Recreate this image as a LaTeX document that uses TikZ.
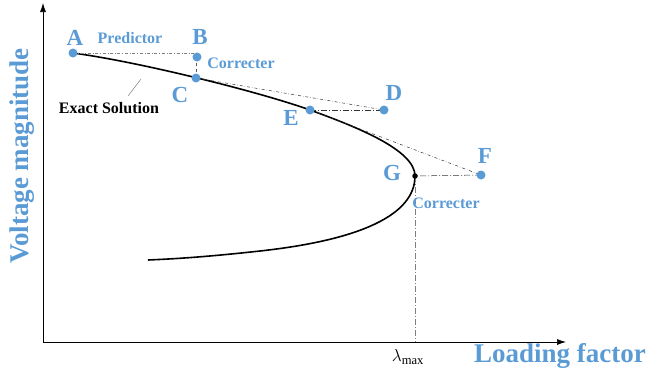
\documentclass[tikz,border=0pt]{standalone}
\usepackage{fontspec}
\setmainfont{Liberation Serif}
\usepackage{xcolor}
\definecolor{pvblue}{HTML}{5B9BD5}
\definecolor{pvgrey}{HTML}{7F7F7F}
\usetikzlibrary{arrows.meta,positioning,backgrounds}

\begin{document}
\begin{tikzpicture}[x=1pt,y=-1pt,
  ptdot/.style={circle,fill=pvblue,inner sep=0pt,minimum size=9pt},
  nosedot/.style={circle,fill=black,inner sep=0pt,minimum size=5.5pt},
  ptlbl/.style={text=pvblue,inner sep=0pt,font=\fontsize{23}{25}\selectfont\bfseries},
  smlbl/.style={text=pvblue,inner sep=0pt,font=\fontsize{16}{18}\selectfont\bfseries},
  axlbl/.style={text=pvblue,inner sep=0pt,font=\fontsize{27}{30}\selectfont\bfseries},
  guide/.style={dash dot,line width=0.5pt,draw=black!80},
  axis/.style={line width=0.7pt,-{Latex[length=9pt,width=6pt]}}]
\useasboundingbox (0,0) rectangle (648,376);

% axes
\coordinate (O) at (43,342);
\coordinate (ytip) at (43,3);
\coordinate (xtip) at (566,342);
\draw[axis] (O) -- (ytip);
\draw[axis] (O) -- (xtip);
\node[axlbl,rotate=90] (vlbl) at (22,156) {Voltage magnitude};
\node[axlbl] (llbl) at (560,356) {Loading factor};

% points
\node[ptdot] (A) at (73,53) {};
\node[ptdot] (B) at (197,57) {};
\node[ptdot] (C) at (196,78) {};
\node[ptdot] (E) at (310,110) {};
\node[ptdot] (D) at (384,110) {};
\node[ptdot] (F) at (481,175) {};
\node[nosedot] (G) at (415,176) {};
\coordinate (Gx) at (415,342);

% labels
\node[ptlbl] (Alab) at (75,38) {A};
\node[ptlbl] (Blab) at (200,37) {B};
\node[ptlbl] (Clab) at (180,95) {C};
\node[ptlbl] (Dlab) at (394,93) {D};
\node[ptlbl] (Elab) at (291,118) {E};
\node[ptlbl] (Flab) at (485,156) {F};
\node[ptlbl] (Glab) at (392,173) {G};
\node[smlbl] (pred) at (130,38) {Predictor};
\node[smlbl] (corr1) at (241,63) {Correcter};
\node[smlbl] (corr2) at (446,203) {Correcter};
\node[inner sep=0pt,font=\fontsize{16}{18}\selectfont\bfseries] (exact) at (109,108) {Exact Solution};
\node[inner sep=0pt,font=\fontsize{18}{20}\selectfont] (lmax) at (408,357) {$\lambda_{\max}$};
\coordinate (extail) at (128,96);
\coordinate (exhead) at (141,79);

\begin{scope}[on background layer]
% exact solution
\draw[line width=1.6pt] (A.center) .. controls (140,62) and (260,92) .. (E.center)
  .. controls (357,127) and (415,150) .. (G.center)
  .. controls (415,215) and (360,240) .. (260,251)
  .. controls (200,257.6) and (170,259) .. (148,260);
% predictor / corrector steps
\draw[guide,draw=pvgrey] (A.center) -- (B.center |- A.center);
\draw[dashed,line width=0.5pt] (B.center) -- (C.center);
\draw[guide] (C.center) -- (D.center);
\draw[guide,dash pattern=on 6pt off 2pt on 1pt off 2pt] (E.center) -- (D.center);
\draw[guide] (E.center) -- (F.center);
\draw[guide,dash pattern=on 6pt off 2pt on 1pt off 2pt] (F.center) -- (G.center);
\draw[guide,draw=pvgrey,dash pattern=on 6pt off 2pt on 1pt off 2pt] (G.center) -- (Gx);
\draw[pvgrey,line width=0.5pt] (extail) -- (exhead);
\end{scope}
\end{tikzpicture}
\end{document}
